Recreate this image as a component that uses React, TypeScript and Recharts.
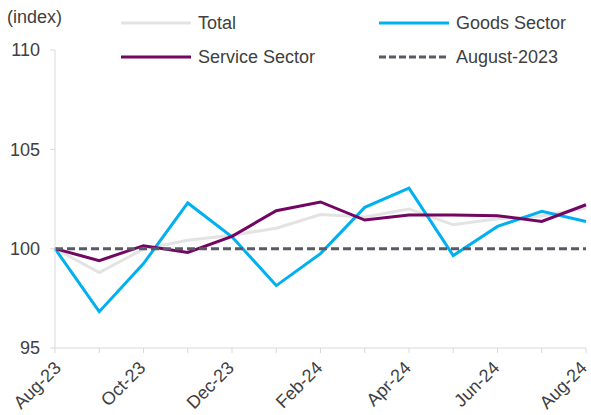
import React from "react";
import { LineChart, Line, XAxis, YAxis, ReferenceLine } from "recharts";

const months = [
  "Aug-23", "Sep-23", "Oct-23", "Nov-23", "Dec-23", "Jan-24", "Feb-24",
  "Mar-24", "Apr-24", "May-24", "Jun-24", "Jul-24", "Aug-24",
];
const total = [100, 98.8, 99.98, 100.42, 100.68, 101.03, 101.72, 101.6, 102.0, 101.2, 101.5, 101.65, 102.05];
const goods = [100, 96.83, 99.25, 102.3, 100.6, 98.14, 99.75, 102.08, 103.05, 99.65, 101.12, 101.88, 101.37];
const service = [100, 99.4, 100.15, 99.81, 100.62, 101.91, 102.35, 101.44, 101.69, 101.69, 101.66, 101.37, 102.21];
const yTicks = [95, 100, 105, 110];
const baseline = 100;

const data = months.map((m, i) => ({
  month: m,
  total: total[i],
  goods: goods[i],
  service: service[i],
}));

const FONT = "'Liberation Sans', Arial, sans-serif";
const TEXT = "#404040";
const AXIS = "#d9d9d9";

function MonthTick(props: any) {
  const { x, y, payload, index } = props;
  if (index % 2 !== 0) return null;
  // first label sits a bit further right, last one is kept inside the frame
  const dx = index === 0 ? 7 : index === months.length - 1 ? 2 : 3;
  return (
    <g transform={`translate(${x + dx},${y + 14})`}>
      <text
        x={0}
        y={0}
        textAnchor="end"
        transform="rotate(-45)"
        fill={TEXT}
        fontSize={18}
        fontFamily={FONT}
      >
        {payload.value}
      </text>
    </g>
  );
}

function LegendItem({ color, label, dashed }: { color: string; label: string; dashed?: boolean }) {
  return (
    <div style={{ display: "flex", alignItems: "center", height: 22 }}>
      <svg width={70} height={6} style={{ marginRight: 7 }}>
        <line
          x1={0}
          y1={3}
          x2={70}
          y2={3}
          stroke={color}
          strokeWidth={3}
          strokeDasharray={dashed ? "7 3" : undefined}
        />
      </svg>
      <span>{label}</span>
    </div>
  );
}

export default function App() {
  return (
    <div
      style={{
        position: "absolute",
        top: 0,
        left: 0,
        width: 591,
        height: 415,
        background: "#fff",
        fontFamily: FONT,
        color: TEXT,
        fontSize: 18,
        lineHeight: "22px",
      }}
    >
      <div style={{ position: "absolute", left: 7, top: 6 }}>(index)</div>
      <div style={{ position: "absolute", left: 121, top: 12 }}>
        <LegendItem color="#e3e3e3" label="Total" />
      </div>
      <div style={{ position: "absolute", left: 379, top: 12 }}>
        <LegendItem color="#00b0f0" label="Goods Sector" />
      </div>
      <div style={{ position: "absolute", left: 121, top: 46 }}>
        <LegendItem color="#730663" label="Service Sector" />
      </div>
      <div style={{ position: "absolute", left: 379, top: 46 }}>
        <LegendItem color="#595a66" label="August-2023" dashed />
      </div>
      <LineChart
        width={591}
        height={415}
        data={data}
        margin={{ top: 50, right: 5, bottom: 7, left: 10 }}
        style={{ position: "absolute", top: 0, left: 0 }}
      >
        <XAxis
          dataKey="month"
          interval={0}
          tick={<MonthTick />}
          tickLine={{ stroke: AXIS }}
          axisLine={{ stroke: AXIS }}
          tickSize={5}
          height={60}
        />
        <YAxis
          domain={[95, 110]}
          ticks={yTicks}
          width={45}
          tick={{ fill: TEXT, fontSize: 18, fontFamily: FONT }}
          tickLine={{ stroke: AXIS }}
          axisLine={{ stroke: AXIS }}
          tickSize={5}
          tickMargin={10}
        />
        <Line dataKey="total" stroke="#e3e3e3" strokeWidth={3} dot={false} isAnimationActive={false} />
        <Line dataKey="goods" stroke="#00b0f0" strokeWidth={3} dot={false} isAnimationActive={false} />
        <Line dataKey="service" stroke="#730663" strokeWidth={3} dot={false} isAnimationActive={false} />
        <ReferenceLine y={baseline} stroke="#595a66" strokeWidth={3} strokeDasharray="8 4" />
      </LineChart>
    </div>
  );
}
